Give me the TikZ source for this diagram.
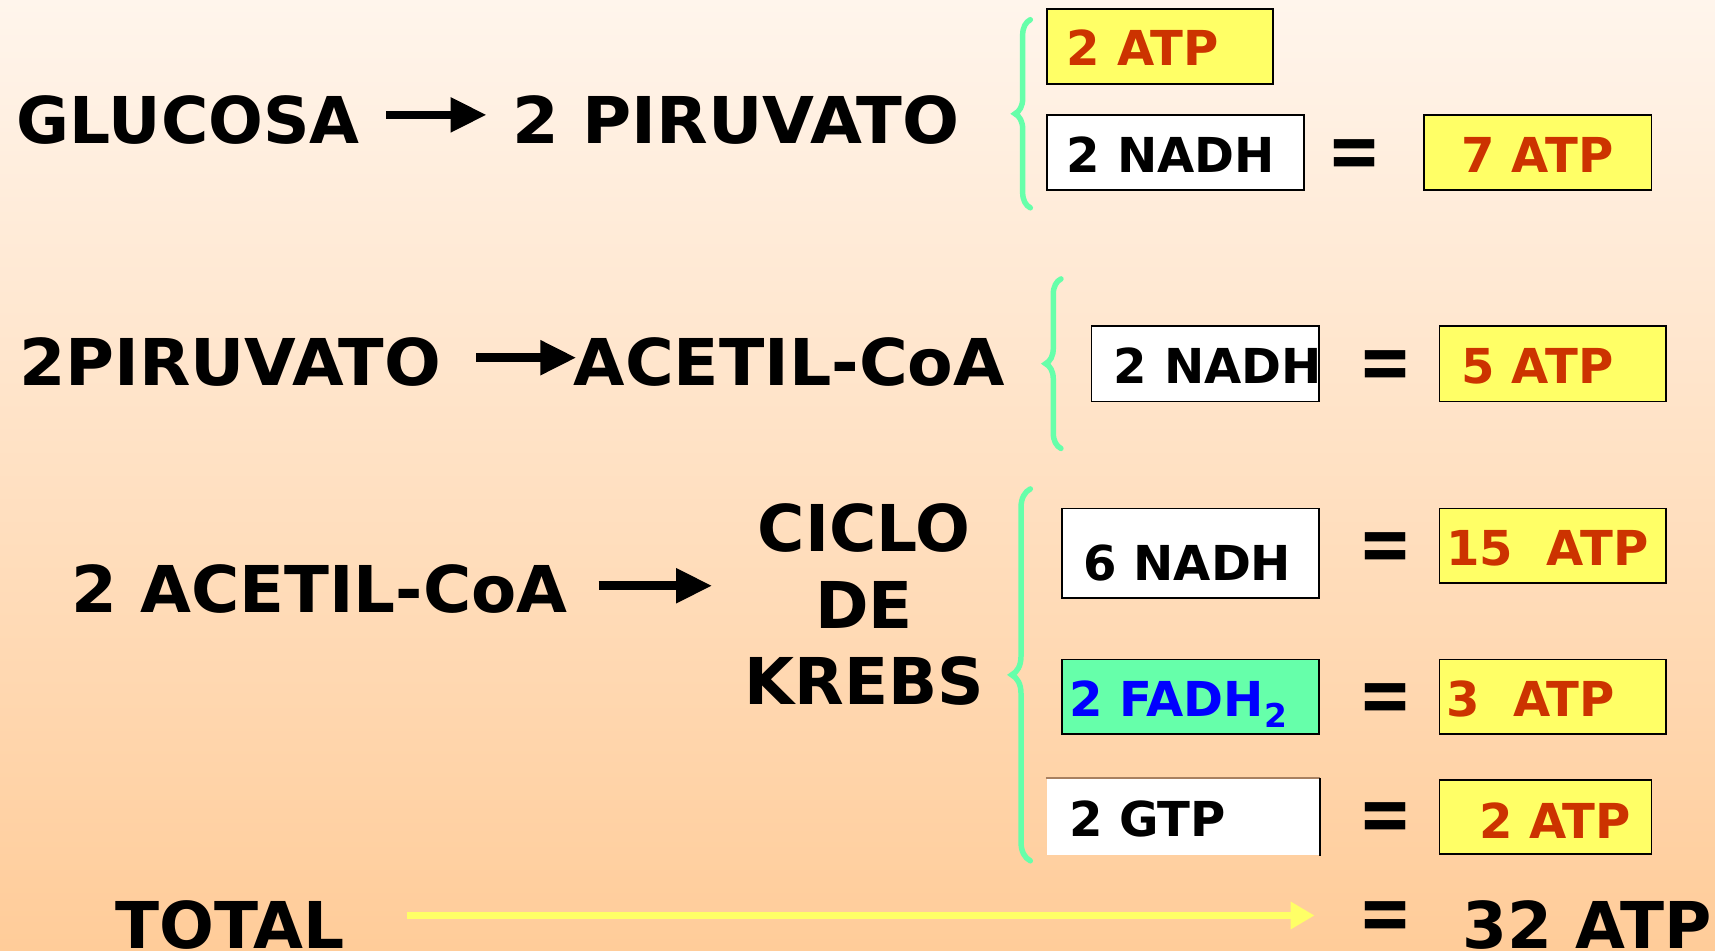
\documentclass[tikz,border=0pt]{standalone}
\usepackage{fontspec}
\setmainfont{DejaVu Sans}
\usetikzlibrary{arrows.meta,decorations.pathreplacing,calc}
\definecolor{atpyellow}{HTML}{FFFF66}
\definecolor{atpred}{HTML}{CC3300}
\definecolor{mint}{HTML}{66FFAA}
\definecolor{bgtop}{HTML}{FFF5EC}
\definecolor{bgbot}{HTML}{FFCC99}
\definecolor{tan}{HTML}{A88060}
\newcommand{\heavyeq}{\scalebox{1}[1.25]{=}}
\begin{document}
\begin{tikzpicture}[x=0.5pt,y=-0.5pt,
  big/.style={inner sep=0pt, anchor=base west, font=\fontsize{29.5}{35}\selectfont\bfseries},
  small/.style={inner sep=0pt, anchor=base west, font=\fontsize{22}{26}\selectfont\bfseries},
  atp/.style={small, text=atpred},
  eqsign/.style={inner sep=0pt, anchor=center, font=\fontsize{29.5}{35}\selectfont\bfseries},
  boxbase/.style={line width=0.8pt, inner sep=0pt, minimum height=34.5pt},
  ybox/.style={boxbase, draw=black, fill=atpyellow},
  wbox/.style={boxbase, draw=black, fill=white},
  gbox/.style={boxbase, draw=black, fill=mint},
  react/.style={line width=4pt, -{Triangle[length=16.5pt,width=15pt]}},
  totalarrow/.style={draw=atpyellow, line width=3.5pt, -{Triangle[length=11pt,width=12pt,fill=atpyellow]}},
  brc/.style={draw=mint, line width=2.5pt, line cap=round, decorate, decoration={brace, amplitude=7pt}},
]
% background
\shade[top color=bgtop, bottom color=bgbot] (0,0) rectangle (1568,869);
\useasboundingbox (0,0) rectangle (1568,869);

% ---- glycolysis ----
\node[big] (glucosa) at (15,131) {GLUCOSA};
\node[big] (piru) at (468,131) {\scalebox{1.04}[1]{2 PIRUVATO}};
\draw[react] ($(glucosa.east)+(12pt,2.25pt)$) -- ($(piru.west |- glucosa.east)+(-11.5pt,2.25pt)$);

\coordinate (br1b) at (942,190);
\coordinate (br1t) at (942,18);
\draw[brc] (br1b) -- (br1t);

\node[ybox, minimum width=103.5pt] (b1) at (1060.5,42.5) {};
\node[atp] (t1) at (975,60) {2 ATP};
\node[wbox, minimum width=117.5pt] (b2) at (1074.5,139.5) {};
\node[small] (t2) at (975,158) {2 NADH};
\node[eqsign] (eq1) at (1238,145) {\heavyeq};
\node[ybox, minimum width=104pt] (b3) at (1406,139.5) {};
\node[atp] (t3) at (1336,158) {7 ATP};

% ---- pyruvate oxidation ----
\node[big] (piru2) at (17,352) {\scalebox{1.035}[1]{2PIRUVATO}};
\node[big] (acetil) at (524,352) {\scalebox{1.03}[1]{ACETIL-CoA}};
\draw[react] ($(piru2.east)+(16pt,1.75pt)$) -- ($(acetil.west |- piru2.east)+(1.5pt,1.75pt)$);

\coordinate (br2b) at (970,410);
\coordinate (br2t) at (970,255);
\draw[brc] (br2b) -- (br2t);

\node[wbox, minimum width=104pt] (b4) at (1102,332.5) {};
\node[small] (t4) at (1018,351) {2 NADH};
\node[eqsign] (eq2) at (1267,338) {\heavyeq};
\node[ybox, minimum width=103.5pt] (b5) at (1419.5,332.5) {};
\node[atp] (t5) at (1336,351) {5 ATP};

% ---- Krebs cycle ----
\node[big, anchor=base west] (acetil2) at (65,560) {\scalebox{1.02}[1]{2 ACETIL-CoA}};
\node[inner sep=0pt, anchor=center, align=center,
      font=\fontsize{29.5}{35}\selectfont\bfseries] (krebs) at (790,553) {CICLO\\DE\\KREBS};
\draw[react] ($(acetil2.east)+(14pt,1.5pt)$) -- ($(krebs.west |- acetil2.east)+(-14.5pt,1.5pt)$);

\coordinate (br3b) at (942,787);
\coordinate (br3t) at (942,447);
\draw[brc, decoration={brace, amplitude=8.5pt}] (br3b) -- (br3t);

\node[wbox, minimum width=117.5pt, minimum height=41pt] (b6) at (1088.5,506) {};
\node[small] (t6) at (990,531) {6 NADH};
\node[eqsign] (eq3) at (1267,505) {\heavyeq};
\node[ybox, minimum width=103.5pt, minimum height=34pt] (b7) at (1419.5,499) {};
\node[atp] (t7) at (1322,517) {15\ \ ATP};

\node[gbox, minimum width=117.5pt, minimum height=34pt] (b8) at (1088.5,637) {};
\node[small, text=blue] (t8) at (977,655) {2 FADH\raisebox{-5pt}{\fontsize{15}{15}\selectfont 2}};
\node[eqsign] (eq4) at (1267,643) {\heavyeq};
\node[ybox, minimum width=103.5pt, minimum height=34pt] (b9) at (1419.5,637) {};
\node[atp] (t9) at (1322,655) {3\ \ ATP};

\node[boxbase, fill=white, minimum width=124.5pt, minimum height=35pt] (b10) at (1081.5,747) {};
\draw[tan, line width=0.6pt] (b10.north west) -- (b10.north east);
\draw[black, line width=0.6pt] (b10.north east) -- (b10.south east);
\node[small] (t10) at (977,765) {2 GTP};
\node[eqsign] (eq5) at (1267,752) {\heavyeq};
\node[ybox, minimum width=97pt, minimum height=34pt] (b11) at (1413,747) {};
\node[atp] (t11) at (1352,767) {2 ATP};

% ---- total ----
\node[big] (total) at (105,867) {TOTAL};
\node[eqsign] (eqT) at (1267,842) {\heavyeq};
\node[big] (sum) at (1337,867) {32 ATP};
\draw[totalarrow] ($(total.east |- eqT.west)+(28.5pt,2.5pt)$) -- ($(eqT.west)+(-20pt,2.5pt)$);
\end{tikzpicture}
\end{document}
